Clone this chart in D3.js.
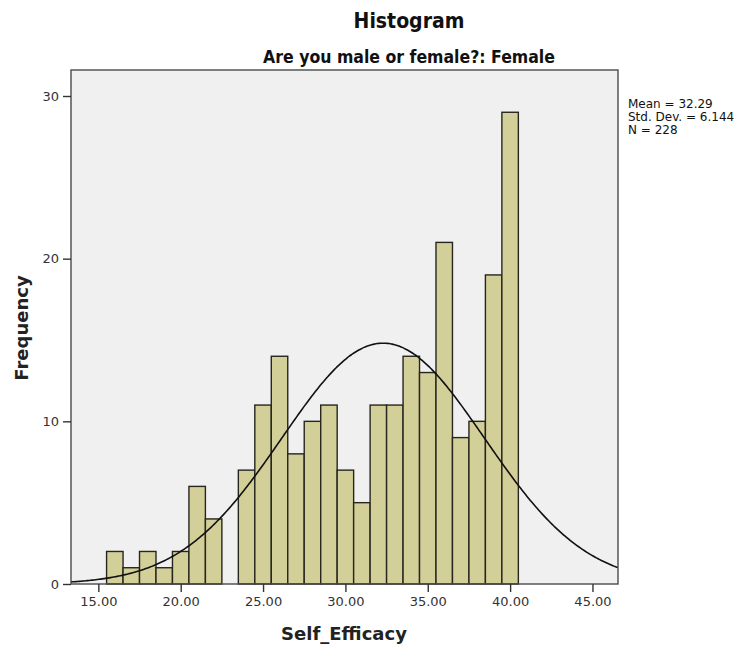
<!DOCTYPE html>
<html>
<head>
<meta charset="utf-8">
<script src="https://cdn.jsdelivr.net/npm/d3@7"></script>
<style>
  body { margin: 0; background: #fff; }
</style>
</head>
<body>
<div id="chart-area"></div>
<script>
/*
*    histogram of Self_Efficacy, females
*/

// Data
var binCenters = [16, 17, 18, 19, 20, 21, 22, 23, 24, 25, 26, 27, 28, 29, 30, 31, 32, 33, 34, 35, 36, 37, 38, 39, 40];
var counts     = [2, 1, 2, 1, 2, 6, 4, 0, 7, 11, 14, 8, 10, 11, 7, 5, 11, 11, 14, 13, 21, 9, 10, 19, 29];
var xTicks = [15, 20, 25, 30, 35, 40, 45];
var yTicks = [0, 10, 20, 30];
var stats = { mean: 32.29, sd: 6.144, n: 228 };
var binWidth = 1;

var width = 752, height = 647;
var plot = { left: 71, right: 618, top: 70, bottom: 584 };

var svg = d3.select("#chart-area").append("svg").attr("width", width).attr("height", height);

// Scales
var x = d3.scaleLinear().domain([13.34, 46.55]).range([plot.left, plot.right]);
var y = d3.scaleLinear().domain([0, 30]).range([plot.bottom, 96]);

// background
svg.append("rect").attr("x", plot.left).attr("y", plot.top)
  .attr("width", plot.right - plot.left).attr("height", plot.bottom - plot.top)
  .attr("fill", "#f0f0f0");

// Bars
var data = binCenters.map((c, i) => { return { c: c, n: counts[i] }; });
svg.append("g").selectAll("rect").data(data.filter((d) => d.n > 0)).enter().append("rect")
  .attr("x", (d) => x(d.c - binWidth / 2))
  .attr("y", (d) => y(d.n))
  .attr("width", (d) => x(d.c + binWidth / 2) - x(d.c - binWidth / 2))
  .attr("height", (d) => y(0) - y(d.n))
  .attr("fill", "#d3cf98").attr("stroke", "#26261f").attr("stroke-width", 1.4);

// Normal curve
var curvePts = d3.range(13.34, 46.56, 0.1).map((v) => {
  var z = (v - stats.mean) / stats.sd;
  return [v, stats.n * binWidth / (stats.sd * Math.sqrt(2 * Math.PI)) * Math.exp(-0.5 * z * z)];
});
svg.append("path").datum(curvePts)
  .attr("d", d3.line().x((d) => x(d[0])).y((d) => y(d[1])).curve(d3.curveBasis))
  .attr("fill", "none").attr("stroke", "#111").attr("stroke-width", 1.6);

// frame
svg.append("rect").attr("x", plot.left).attr("y", plot.top)
  .attr("width", plot.right - plot.left).attr("height", plot.bottom - plot.top)
  .attr("fill", "none").attr("stroke", "#4a4a4a").attr("stroke-width", 1.4);

// Axis
var xAxisCall = d3.axisBottom(x).tickValues(xTicks).tickSize(8).tickSizeOuter(0).tickPadding(5)
  .tickFormat(d3.format(".2f"));
var xAxisGroup = svg.append("g").attr("transform", "translate(0," + plot.bottom + ")").call(xAxisCall);

var yAxisCall = d3.axisLeft(y).tickValues(yTicks).tickSize(8).tickSizeOuter(0).tickPadding(4);
var yAxisGroup = svg.append("g").attr("transform", "translate(" + plot.left + ",0)").call(yAxisCall);

[xAxisGroup, yAxisGroup].forEach((g) => {
  g.select(".domain").remove();
  g.selectAll("line").attr("stroke", "#333").attr("stroke-width", 1.4);
  g.selectAll("text").attr("fill", "#333").attr("font-family", "DejaVu Sans, sans-serif").attr("font-size", "13px");
});

// Labels
svg.append("text").attr("x", 409).attr("y", 28).attr("text-anchor", "middle")
  .attr("font-family", "DejaVu Sans Condensed, DejaVu Sans, sans-serif").attr("font-weight", "bold")
  .attr("font-size", "21px").attr("fill", "#111").text("Histogram");

svg.append("text").attr("x", 409).attr("y", 63).attr("text-anchor", "middle")
  .attr("font-family", "DejaVu Sans Condensed, DejaVu Sans, sans-serif").attr("font-weight", "bold")
  .attr("font-size", "17.5px").attr("fill", "#111").text("Are you male or female?: Female");

svg.append("text").attr("x", 344).attr("y", 640).attr("text-anchor", "middle")
  .attr("font-family", "DejaVu Sans, sans-serif").attr("font-weight", "bold")
  .attr("font-size", "18px").attr("fill", "#222").text("Self_Efficacy");

svg.append("text").attr("transform", "translate(28,328) rotate(-90)").attr("text-anchor", "middle")
  .attr("font-family", "DejaVu Sans, sans-serif").attr("font-weight", "bold")
  .attr("font-size", "18px").attr("fill", "#222").text("Frequency");

// stats box
var statLines = ["Mean = " + stats.mean, "Std. Dev. = " + stats.sd, "N = " + stats.n];
svg.append("g").selectAll("text").data(statLines).enter().append("text")
  .attr("x", 628).attr("y", (d, i) => 108 + i * 13)
  .attr("font-family", "DejaVu Sans, sans-serif").attr("font-size", "12px").attr("fill", "#111")
  .text((d) => d);
</script>
</body>
</html>
